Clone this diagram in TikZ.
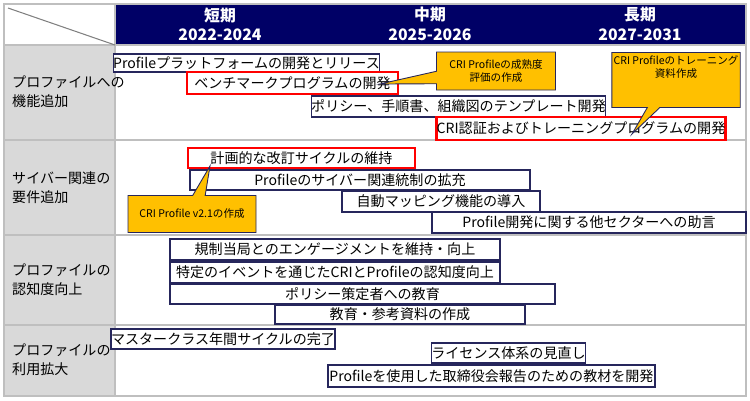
\documentclass[tikz,border=0pt]{standalone}
\usepackage{fontspec}
\setmainfont{Noto Sans CJK JP}
\usetikzlibrary{shapes.callouts}
\definecolor{navyhead}{HTML}{000066}
\definecolor{boxline}{HTML}{26265C}
\definecolor{calloutfill}{HTML}{FFC000}
\definecolor{rowgrey}{HTML}{D9D9D9}
\definecolor{gridline}{HTML}{BFBFBF}
% task bar: [style], x1, y1, x2, y2, text
\newcommand{\taskbar}[6][]{%
  \node[task bar, #1, minimum width={(#4-#2)*0.02cm}, minimum height={(#5-#3)*0.02cm}]
    (#2-#3) at ({(#2+#4)/2},{(#3+#5)/2}) {#6};}
\begin{document}
\begin{tikzpicture}[x=0.02cm,y=-0.02cm]
\tikzset{task bar/.style={draw=boxline,line width=.7pt,fill=white,inner sep=0pt,font=\fontsize{8}{9}\selectfont},
  key bar/.style={draw=red,line width=1.4pt},
  note/.style={rectangle callout,draw=boxline,line width=.5pt,fill=calloutfill,align=center,inner sep=1pt,font=\fontsize{6}{7.5}\selectfont},
  head/.style={text=white,font=\bfseries\fontsize{9}{11}\selectfont,align=center},
  rowlabel/.style={anchor=west,align=left,font=\fontsize{8}{11}\selectfont}}
\useasboundingbox (0,0) rectangle (750,400);
% table
\fill[navyhead] (115,4) rectangle (746,45);
\fill[rowgrey] (4,45) rectangle (115,396);
\draw[gridline,line width=.8pt] (4,4) rectangle (746,396);
\foreach \y in {45,140,235,325}{
  \draw[gridline,line width=1pt] (4,\y) -- (746,\y);
}
\draw[gridline,line width=.8pt] (115,4) -- (115,396);
\draw[gray,line width=.6pt] (8,8) -- (115,45);
\node[head] (short) at (220,24) {短期\\2022-2024};
\node[head] (mid) at (430,24) {中期\\2025-2026};
\node[head] (long) at (640,24) {長期\\2027-2031};
\node[rowlabel] (r1) at (6,92) {プロファイルへの\\機能追加};
\node[rowlabel] (r2) at (6,188) {サイバー関連の\\要件追加};
\node[rowlabel] (r3) at (6,280) {プロファイルの\\認知度向上};
\node[rowlabel] (r4) at (6,360) {プロファイルの\\利用拡大};
% row 1
\taskbar{118}{54}{375}{72}{Profileプラットフォームの開発とリリース}
\taskbar{322}{96}{595}{117}{ポリシー、手順書、組織図のテンプレート開発}
\taskbar[key bar]{187}{72}{398}{94}{ベンチマークプログラムの開発}
\taskbar[key bar]{446}{117}{716}{140}{CRI認証およびトレーニングプログラムの開発}
\coordinate (p1) at (380,84);
\coordinate (p2) at (632,134);
\node[note,minimum width=119*0.02cm,minimum height=38*0.02cm,callout absolute pointer={(p1)}] (n1) at (496,71) {CRI Profileの成熟度\\評価の作成};
\node[note,minimum width=123*0.02cm,minimum height=55*0.02cm,callout absolute pointer={(p2)}] (n2) at (676,80) {CRI Profileのトレーニング\\資料作成\\[8pt]};
% row 2
\taskbar{190}{170}{530}{190}{Profileのサイバー関連統制の拡充}
\taskbar{342}{191}{540}{212}{自動マッピング機能の導入}
\taskbar{432}{212}{746}{233}{Profile開発に関する他セクターへの助言}
\taskbar[key bar]{188}{148}{415}{168}{計画的な改訂サイクルの維持}
\coordinate (p3) at (210,166);
\node[note,minimum width=128*0.02cm,minimum height=37*0.02cm,callout absolute pointer={(p3)}] (n3) at (192,214) {CRI Profile v2.1の作成};
% row 3
\taskbar{170}{239}{500}{260}{規制当局とのエンゲージメントを維持・向上}
\taskbar{170}{262}{500}{283}{特定のイベントを通じたCRIとProfileの認知度向上}
\taskbar{170}{284}{555}{304}{ポリシー策定者への教育}
\taskbar{275}{305}{525}{324}{教育・参考資料の作成}
% row 4
\taskbar{118}{329}{328}{349}{マスタークラス年間サイクルの完了}
\taskbar{432}{343}{585}{363}{ライセンス体系の見直し}
\taskbar{328}{365}{655}{387}{Profileを使用した取締役会報告のための教材を開発}
\end{tikzpicture}
\end{document}
